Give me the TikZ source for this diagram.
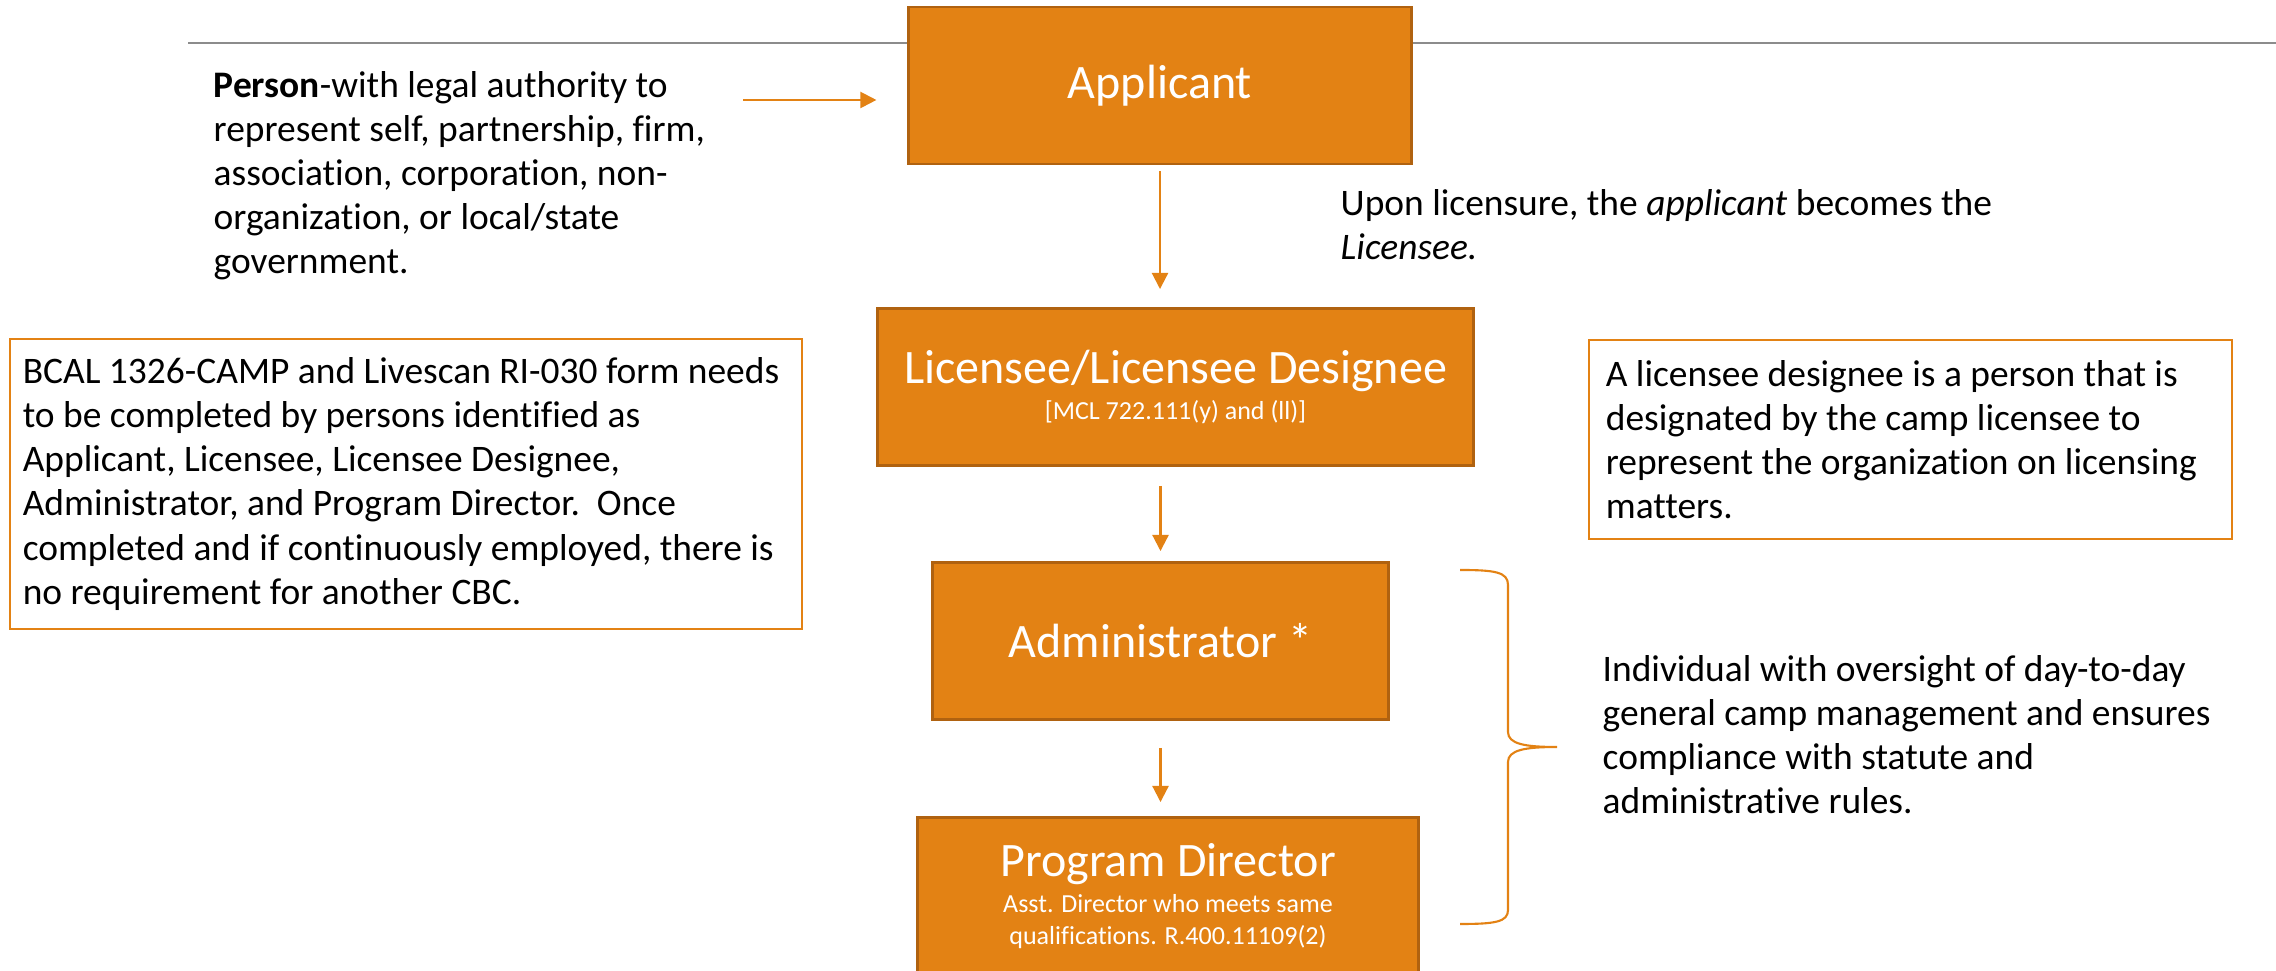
\documentclass[tikz,border=0pt]{standalone}
\usepackage{fontspec}
\setmainfont{Carlito}[Ligatures=NoCommon]
\usepackage{tikz}
\usetikzlibrary{arrows.meta}
\definecolor{boxorange}{RGB}{227,130,20}
\definecolor{boxedge}{RGB}{176,98,16}
\definecolor{rulegray}{RGB}{140,140,140}
\newcommand{\bodyfont}{\fontsize{10.65pt}{12.52pt}\selectfont}
\newcommand{\subfont}{\fontsize{7.4pt}{9.1pt}\selectfont}

\begin{document}
\begin{tikzpicture}[x=0.01cm,y=-0.01cm,
	role/.style ={rectangle, draw=boxedge, fill=boxorange, line width=0.8pt, text=white, align=center, minimum height=1.57cm, font=\fontsize{13.66pt}{10.24pt}\selectfont},
	note/.style ={rectangle, draw=boxorange, line width=0.5pt, align=flush left, font=\bodyfont},
	plain/.style ={align=left, inner sep=0pt, font=\bodyfont},
	link/.style ={draw=boxorange, line width=0.6pt, -{Triangle[length=4.6pt,width=4.6pt]}}]
		\useasboundingbox (0,0) rectangle (2276,971);
		\coordinate (rl) at (188,43);
		\coordinate (rr) at (2276,43);
		\draw[rulegray, line width=0.6pt] (rl)--(rr);
		\node[role, minimum width=5.02cm] (app) at (1160,85.5) {Applicant};
		\node[role, minimum width=5.95cm] (lic) at (1175.5,387) {Licensee/Licensee Designee\\{\subfont [MCL 722.111(y) and (ll)]}};
		\node[role, minimum width=4.55cm] (adm) at (1160.5,641) {Administrator *};
		\node[role, minimum width=5.00cm] (pd) at (1168,896) {Program Director\\{\subfont Asst. Director who meets same}\\[-1.1pt]{\subfont qualifications. R.400.11109(2)}};
		\node[plain, anchor=north west] (who) at (213,71) {\textbf{Person}-with legal authority to\\represent self, partnership, firm,\\association, corporation, non-\\organization, or local/state\\government.};
		\node[plain, anchor=north west] (upon) at (1340,189) {Upon licensure, the \textit{applicant} becomes the\\\textit{Licensee.}};
		\node[note, inner xsep=0.13cm, text width=7.66cm, minimum height=2.90cm] (cbc) at (406,484) {BCAL 1326-CAMP and Livescan RI-030 form needs\\to be completed by persons identified as\\Applicant, Licensee, Licensee Designee,\\Administrator, and Program Director.~~Once\\completed and if continuously employed, there is\\no requirement for another CBC.};
		\node[note, inner xsep=0.17cm, text width=6.09cm, minimum height=1.99cm] (dsg) at (1910.5,439.5) {A licensee designee is a person that is\\designated by the camp licensee to\\represent the organization on licensing\\matters.};
		\node[plain, anchor=north west] (duty) at (1602,655) {Individual with oversight of day-to-day\\general camp management and ensures\\compliance with statute and\\administrative rules.};
		\coordinate (src) at (743,100);
		\draw[link, shorten >=0.31cm] (src)--(src -| app.west);
		\draw[link, shorten <=0.06cm, shorten >=0.18cm] (app.south)--(app.south |- lic.north);
		\draw[link, shorten <=0.19cm, shorten >=0.10cm] (adm.north |- lic.south)--(adm.north);
		\draw[link, shorten <=0.27cm, shorten >=0.14cm] (adm.south)--(adm.south |- pd.north);
		% brace round administrator and program director
		\draw[boxorange, line width=0.6pt] (1460,570) .. controls (1495,570) and (1508,572) .. (1508,585) -- (1508,732) .. controls (1508,744) and (1525,747) .. (1557,747) .. controls (1525,747) and (1508,750) .. (1508,762) -- (1508,910) .. controls (1508,922) and (1495,924) .. (1460,924);
	\end{tikzpicture}
\end{document}
